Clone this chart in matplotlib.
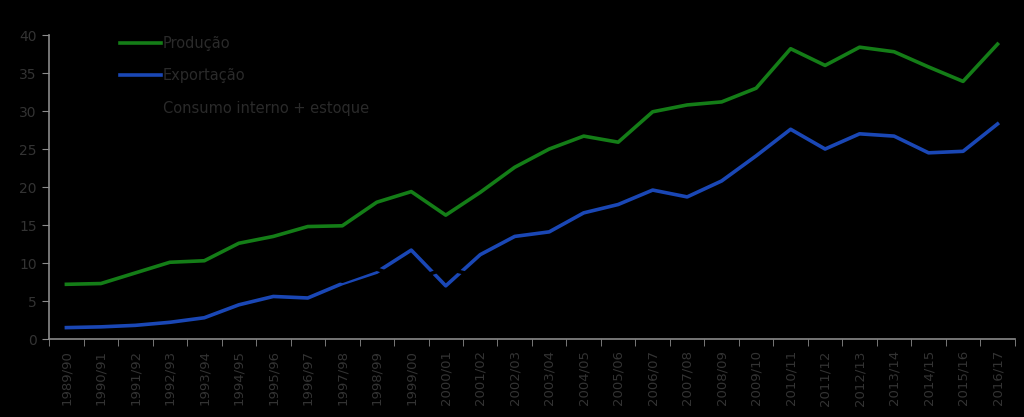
import matplotlib
matplotlib.use("Agg")
import matplotlib.pyplot as plt
import numpy as np

categories = ["1989/90", "1990/91", "1991/92", "1992/93", "1993/94", "1994/95", "1995/96",
              "1996/97", "1997/98", "1998/99", "1999/00", "2000/01", "2001/02", "2002/03",
              "2003/04", "2004/05", "2005/06", "2006/07", "2007/08", "2008/09", "2009/10",
              "2010/11", "2011/12", "2012/13", "2013/14", "2014/15", "2015/16", "2016/17"]
producao = [7.2, 7.3, 8.7, 10.1, 10.3, 12.6, 13.5, 14.8, 14.9, 18.0, 19.4, 16.3, 19.3, 22.6,
            25.0, 26.7, 25.9, 29.9, 30.8, 31.2, 33.0, 38.2, 36.0, 38.4, 37.8, 35.8, 33.9, 38.8]
exportacao = [1.5, 1.6, 1.8, 2.2, 2.8, 4.5, 5.6, 5.4, 7.3, 8.8, 11.7, 7.0, 11.1, 13.5,
              14.1, 16.6, 17.7, 19.6, 18.7, 20.8, 24.1, 27.6, 25.0, 27.0, 26.7, 24.5, 24.7, 28.3]
consumo = [5.7, 5.7, 6.9, 7.9, 7.5, 8.1, 7.9, 9.4, 7.6, 9.2, 7.7, 9.3, 8.2, 9.1,
           10.9, 10.1, 8.2, 10.3, 12.1, 10.4, 8.9, 10.6, 11.0, 11.4, 11.1, 11.3, 9.2, 10.5]
y_ticks = [0, 5, 10, 15, 20, 25, 30, 35, 40]

fig = plt.figure(figsize=(10.24, 4.17), dpi=100, facecolor="black")
ax = fig.add_axes([0.048, 0.187, 0.943, 0.729], facecolor="black")

x = np.arange(len(categories))
ax.plot(x, producao, color="#147d17", lw=2.6, label="Produção", zorder=3)
ax.plot(x, exportacao, color="#1a47b5", lw=2.6, label="Exportação", zorder=3)
ax.plot(x, consumo, color="black", lw=2.6, label="Consumo interno + estoque", zorder=4)

ax.set_xlim(-0.5, len(categories) - 0.5)
ax.set_ylim(0, 40)
ax.set_yticks(y_ticks)
ax.set_xticks(x)
ax.set_xticklabels(categories, rotation=90)
ax.set_xticks(np.arange(-0.5, len(categories)), minor=True)
ax.tick_params(axis="x", which="major", length=0, pad=8, labelsize=9.5, labelcolor="#333333")
ax.tick_params(axis="x", which="minor", length=5, color="#8a8a8a", direction="out")
ax.tick_params(axis="y", length=5, color="#8a8a8a", labelsize=10, labelcolor="#333333", pad=4)

for s in ["top", "right"]:
    ax.spines[s].set_visible(False)
for s in ["left", "bottom"]:
    ax.spines[s].set_color("#8a8a8a")
    ax.spines[s].set_linewidth(1.2)

leg = ax.legend(loc="upper left", bbox_to_anchor=(0.06, 1.04), frameon=False,
                fontsize=10.5, handlelength=2.8, handletextpad=0.1, labelspacing=1.2)
for t in leg.get_texts():
    t.set_color("#2a2a2a")

fig.savefig("out.png", dpi=100, facecolor="black")
